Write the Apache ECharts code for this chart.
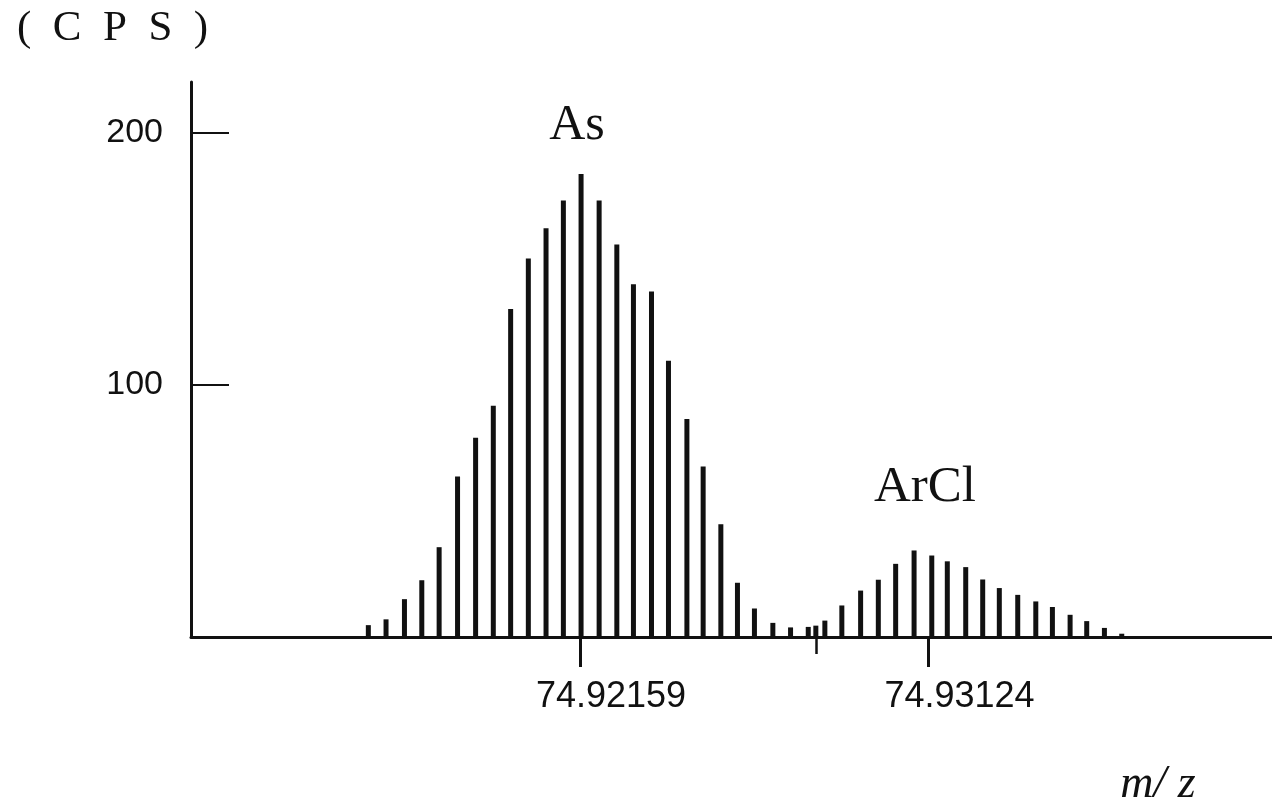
<!DOCTYPE html>
<html>
<head>
<meta charset="utf-8">
<title>As / ArCl mass spectrum</title>
<script src="https://cdn.jsdelivr.net/npm/echarts@6/dist/echarts.min.js"></script>
<style>
  html, body { margin: 0; padding: 0; background: #fff; }
  #chart { width: 1272px; height: 808px; }
</style>
</head>
<body>
<div id="chart"></div>
<script>
// m/z of each scan point and counts (CPS)
const asMz = [74.91573, 74.91622, 74.91673, 74.91721, 74.91769, 74.91820, 74.91870, 74.91919, 74.91967, 74.92016,
  74.92065, 74.92113, 74.92162, 74.92212, 74.92261, 74.92307, 74.92357, 74.92404, 74.92455, 74.92500,
  74.92549, 74.92595, 74.92642, 74.92693, 74.92742, 74.92791]
const asCps = [4.7, 7, 15, 22.5, 35.6, 63.6, 79, 91.7, 130, 150,
  162, 173, 183.5, 173, 155.6, 139.8, 137, 109.5, 86.4, 67.6,
  44.7, 21.5, 11.3, 5.6, 3.8, 4]

const arclMz = [74.92812, 74.92837, 74.92884, 74.92936, 74.92985, 74.93033, 74.93084, 74.93133, 74.93176, 74.93227,
  74.93274, 74.93320, 74.93371, 74.93421, 74.93467, 74.93516, 74.93562, 74.93611, 74.93659]
const arclCps = [4.5, 6.5, 12.5, 18.4, 22.7, 29, 34.3, 32.3, 30, 27.7,
  22.8, 19.4, 16.7, 14.1, 11.9, 8.8, 6.3, 3.6, 1.3]

const mzTicks = [74.92159, 74.93124]
const midTick = [74.92812]
const cpsTicks = [100, 200]

const ink = '#111'
const mzMin = 74.91082
const mzMax = 74.94075

const chart = echarts.init(document.getElementById('chart'))

const toPairs = (xs, ys) => xs.map((x, i) => [x, ys[i]])

const option = {
  backgroundColor: '#fff',
  animation: false,
  grid: { left: 191, right: 0, top: 82, bottom: 171 },
  xAxis: [
    {
      type: 'value',
      min: mzMin,
      max: mzMax,
      splitLine: { show: false },
      axisLine: { lineStyle: { color: ink, width: 3 } },
      axisTick: { customValues: mzTicks, length: 30, lineStyle: { color: ink, width: 3 } },
      axisLabel: {
        customValues: mzTicks,
        formatter: v => v.toFixed(5),
        margin: 42,
        padding: [0, 0, 0, 62],
        color: ink,
        fontFamily: 'Liberation Sans',
        fontSize: 36
      }
    },
    {
      type: 'value',
      min: mzMin,
      max: mzMax,
      position: 'bottom',
      splitLine: { show: false },
      axisLine: { show: false },
      axisTick: { customValues: midTick, length: 17, lineStyle: { color: ink, width: 2.5 } },
      axisLabel: { show: false }
    }
  ],
  yAxis: {
    type: 'value',
    min: 0,
    max: 220,
    interval: 100,
    splitLine: { show: false },
    axisLine: { lineStyle: { color: ink, width: 3 } },
    axisTick: { inside: true, customValues: cpsTicks, length: 38, lineStyle: { color: ink, width: 2 } },
    axisLabel: {
      customValues: cpsTicks,
      margin: 28,
      color: ink,
      fontFamily: 'Liberation Sans',
      fontSize: 34
    }
  },
  series: [
    {
      name: 'As',
      type: 'bar',
      barWidth: 5,
      barGap: '-100%',
      itemStyle: { color: ink },
      data: toPairs(asMz, asCps)
    },
    {
      name: 'ArCl',
      type: 'bar',
      barWidth: 5,
      barGap: '-100%',
      itemStyle: { color: ink },
      data: toPairs(arclMz, arclCps)
    }
  ],
  graphic: [
    {
      type: 'text', left: 17, top: 7,
      style: { text: '(  C  P  S  )', fill: ink, font: '43px "Liberation Serif"' }
    },
    {
      type: 'text', x: 577, y: 151,
      style: { text: 'As', fill: ink, font: '50px "Liberation Serif"', align: 'center', verticalAlign: 'bottom' }
    },
    {
      type: 'text', x: 925, y: 513,
      style: { text: 'ArCl', fill: ink, font: '51px "Liberation Serif"', align: 'center', verticalAlign: 'bottom' }
    },
    {
      type: 'text', x: 1158, y: 808,
      style: { text: 'm/ z', fill: ink, font: 'italic 46px "Liberation Serif"', align: 'center', verticalAlign: 'bottom' }
    }
  ]
}

chart.setOption(option)
</script>
</body>
</html>
